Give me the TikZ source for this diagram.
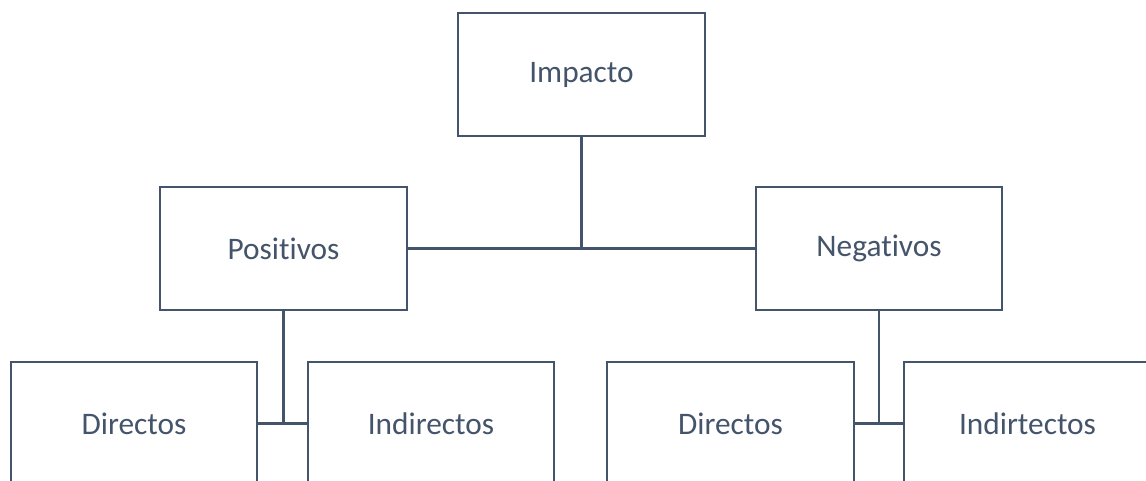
\documentclass[tikz,border=0pt]{standalone}
\usepackage{fontspec}
\setmainfont{Carlito}[Ligatures=NoCommon]
\definecolor{ink}{HTML}{44546A}
\begin{document}
\begin{tikzpicture}[x=0.75pt,y=-0.75pt,
  box/.style={draw=ink,line width=1.7pt,fill=white,rectangle,minimum width=185pt,minimum height=92pt,inner sep=0pt,text=ink,font=\fontsize{23.5}{28}\selectfont},
  conn/.style={draw=ink,line width=1.7pt}]
\useasboundingbox (0,0) rectangle (1146,480);
\clip (0,0) rectangle (1146,480);
\node[box] (imp) at (581.5,74.5) {Impacto};
\node[box] (pos) at (283.5,248.5) {Positivos};
\node[box] (neg) at (879,248.5) {Negativos};
\node[box] (d1) at (134,423.5) {Directos};
\node[box] (i1) at (431,423.5) {Indirectos};
\node[box] (d2) at (730.5,423.5) {Directos};
\node[box] (i2) at (1027.5,423.5) {Indirtectos};
\draw[conn] (imp.south) -- (imp.south |- pos.east);
\draw[conn] (pos.east) -- (neg.west);
\draw[conn] (pos.south) -- (pos.south |- d1.east);
\draw[conn] (d1.east) -- (i1.west);
\draw[conn] (neg.south) -- (neg.south |- d2.east);
\draw[conn] (d2.east) -- (i2.west);
\end{tikzpicture}
\end{document}
